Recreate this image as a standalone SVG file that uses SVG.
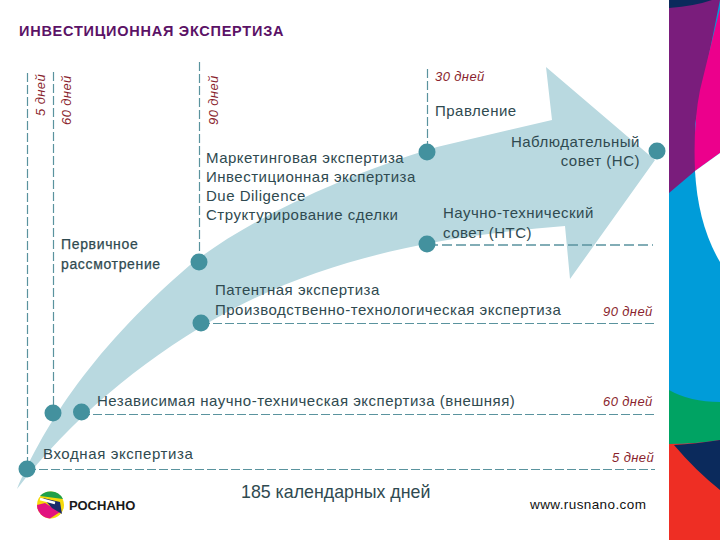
<svg xmlns="http://www.w3.org/2000/svg" width="720" height="540" viewBox="0 0 720 540">
<style>
text{font-family:"Liberation Sans",Arial,sans-serif;fill:#2f4a50;font-size:15px;letter-spacing:.5px}
.d{fill:#8a1f2e;font-style:italic;font-size:13px;letter-spacing:.4px}
.b{font-size:14px;letter-spacing:.65px;stroke:#2f4a50;stroke-width:.25}
.l{stroke:#5a939e;stroke-width:1.200;stroke-dasharray:9 3;fill:none}
.n{fill:#43919e}
</style>
<rect width="720" height="540" fill="#fff"/>
<g id="side">
<rect x="669" width="51" height="540" fill="#009cd9"/>
<path d="M669 193V0H720L695 124V171Z" fill="#7a1d7c"/>
<path d="M669 8Q695 6 712 0H669Z" fill="#0b2a5c"/>
<path d="M722 0L700 90Q693 125 695 171L720 153V0Z" fill="#ec008c"/>
<path d="M695 171L720 153V262Q698 225 695 171Z" fill="#fff"/>
<path d="M669 390Q690 402 720 402V440Q695 444 669 444Z" fill="#00a363"/>
<path d="M669 444Q695 444 720 440V540H669Z" fill="#ee2e24"/>
<path d="M674 445Q695 444 720 440V490Q695 470 674 445Z" fill="#0b2a5c"/>
</g>
<g id="arrow"><path d="M17 489C40 435 85 355 190 265C245 222 335 178 437 147L552 120L546 67L655 160L570 279L565 226C440 236 320 258 213 320C140 362 70 420 17 489Z" fill="#b9d9e0"/></g>
<g id="connectors">
<path class="l" d="M27.500 73V469M53.500 72V413M199.500 62V262M427.500 69V152M27 469.500H655M81 414.500H655M201 323.500H655"/>
<path class="l" d="M428 245H653" style="stroke-width:1.600;stroke-dasharray:10 4"/>
</g>
<g id="node-1"><circle class="n" cx="27" cy="469" r="8.500"/></g>
<g id="node-2"><circle class="n" cx="53" cy="413" r="8.500"/></g>
<g id="node-3"><circle class="n" cx="81.500" cy="412" r="8.500"/></g>
<g id="node-4"><circle class="n" cx="199" cy="262" r="8.500"/></g>
<g id="node-5"><circle class="n" cx="201" cy="323" r="8.500"/></g>
<g id="node-6"><circle class="n" cx="427" cy="152" r="8.500"/></g>
<g id="node-7"><circle class="n" cx="427" cy="244" r="8.500"/></g>
<g id="node-8"><circle class="n" cx="657" cy="151" r="8.500"/></g>
<g id="labels">
<text x="19" y="36" style="fill:#5b1266;font-weight:700;font-size:14.500px;letter-spacing:.75px">ИНВЕСТИЦИОННАЯ ЭКСПЕРТИЗА</text>
<text class="d" transform="translate(45 116) rotate(-90)">5 дней</text>
<text class="d" transform="translate(71 125) rotate(-90)">60 дней</text>
<text class="d" transform="translate(218 125) rotate(-90)">90 дней</text>
<text class="d" x="435" y="81">30 дней</text>
<text x="435" y="116">Правление</text>
<text x="640" y="147" text-anchor="end">Наблюдательный</text>
<text x="640" y="166" text-anchor="end">совет (НС)</text>
<text x="206" y="163">Маркетинговая экспертиза</text>
<text x="206" y="182">Инвестиционная экспертиза</text>
<text x="206" y="201">Due Diligence</text>
<text x="206" y="220">Структурирование сделки</text>
<text x="443" y="218">Научно-технический</text>
<text x="443" y="238">совет (НТС)</text>
<text class="b" x="61" y="249">Первичное</text>
<text class="b" x="61" y="269">рассмотрение</text>
<text x="215" y="295">Патентная экспертиза</text>
<text x="215" y="315">Производственно-технологическая экспертиза</text>
<text class="d" x="603" y="316">90 дней</text>
<text x="97" y="406">Независимая научно-техническая экспертиза (внешняя)</text>
<text class="d" x="603" y="406">60 дней</text>
<text x="43" y="459" style="letter-spacing:.6px">Входная экспертиза</text>
<text class="d" x="612" y="462">5 дней</text>
<text x="241" y="498" style="font-size:17.800px;letter-spacing:0">185 календарных дней</text>
<text x="530" y="509" style="font-size:13.500px;letter-spacing:.4px;fill:#111">www.rusnano.com</text>
</g>
<g id="logo">
<circle cx="50.500" cy="505" r="13.500" fill="#f5d90a"/>
<path d="M50 491.500A13.500 13.500 0 0 1 63 499L40 496A13.500 13.500 0 0 1 50 491.500Z" fill="#1fa04a"/>
<path d="M37 505A13.500 13.500 0 0 0 50 518.500L60 512L45 503Z" fill="#e2127f"/>
<path d="M43 498L60 502L62 514L52 508Z" fill="#1b2a6b"/>
<path d="M40 499L55 503" stroke="#fff" stroke-width="2.500"/>
<text x="69" y="510" style="font-size:13px;font-weight:700;fill:#1a1a1a;letter-spacing:0">РОСНАНО</text>
</g>
</svg>
